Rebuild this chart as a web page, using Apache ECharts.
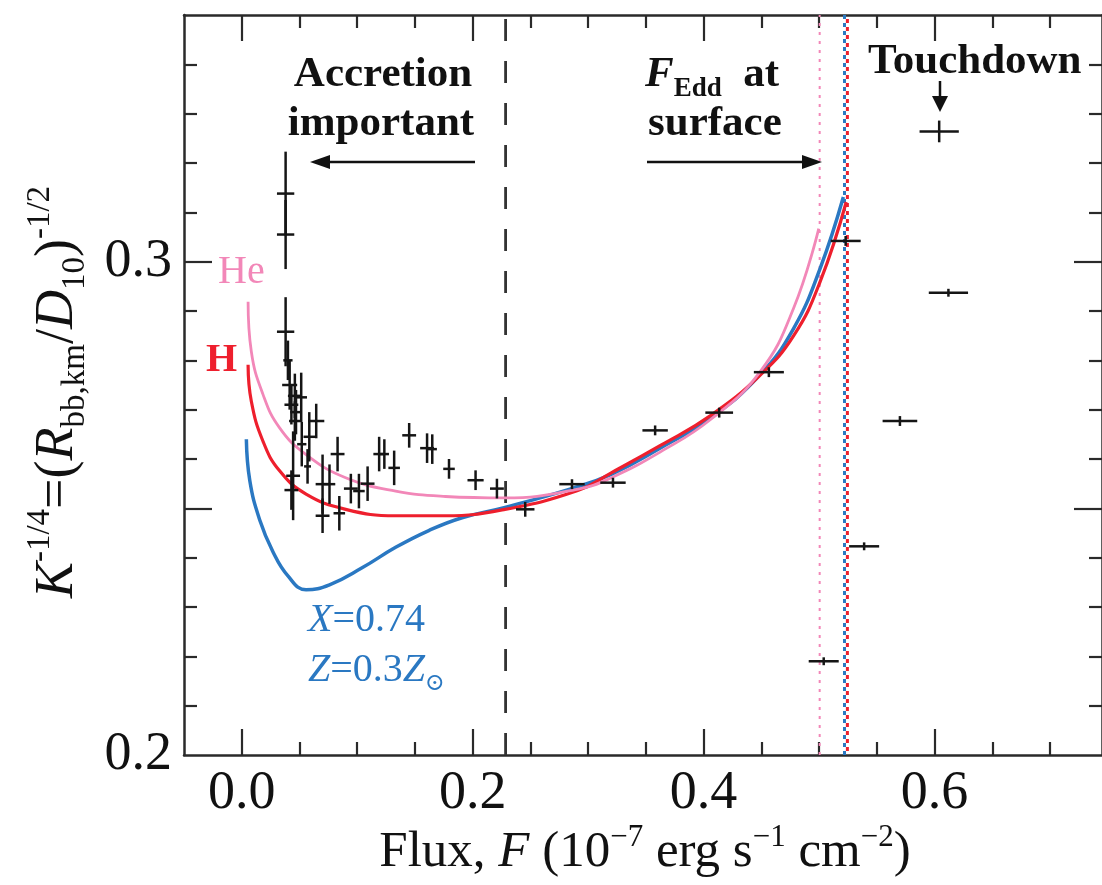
<!DOCTYPE html>
<html><head><meta charset="utf-8">
<script src="https://cdn.jsdelivr.net/npm/echarts@6/dist/echarts.min.js"></script>
<style>html,body{margin:0;padding:0;background:#fff}#c{width:1102px;height:885px}</style>
</head><body><div id="c"></div>
<script>
// ---- model curves ----
const blueX = [0.004, 0.007, 0.0155, 0.027, 0.040, 0.0557, 0.076, 0.1046, 0.1333, 0.162, 0.1908, 0.228, 0.2856, 0.32, 0.363, 0.406, 0.449, 0.478, 0.501, 0.521];
const blueY = [0.2640, 0.2556, 0.2477, 0.2412, 0.2363, 0.2335, 0.2345, 0.2380, 0.2421, 0.2455, 0.2481, 0.2502, 0.2540, 0.2569, 0.2623, 0.2683, 0.2771, 0.2865, 0.2987, 0.3131];
const redX = [0.0055, 0.0083, 0.0184, 0.0328, 0.0557, 0.09, 0.1333, 0.1765, 0.228, 0.291, 0.32, 0.363, 0.406, 0.449, 0.478, 0.501, 0.5235];
const redY = [0.2791, 0.2717, 0.2636, 0.2576, 0.2529, 0.2498, 0.2485, 0.2485, 0.2498, 0.2536, 0.2572, 0.2628, 0.2688, 0.2770, 0.2850, 0.2960, 0.3121];
const pinkX = [0.0055, 0.0083, 0.0184, 0.0328, 0.0557, 0.09, 0.1333, 0.1765, 0.228, 0.2914, 0.32, 0.363, 0.406, 0.449, 0.478, 0.4997];
const pinkY = [0.2919, 0.2818, 0.2731, 0.2663, 0.2609, 0.2562, 0.2535, 0.2524, 0.2521, 0.2539, 0.2562, 0.2615, 0.2680, 0.2777, 0.2906, 0.3067];

// ---- observed points with error bars ----
const ptX =    [0.038, 0.038, 0.038, 0.040, 0.0415, 0.046, 0.0515, 0.043, 0.047, 0.046, 0.0645, 0.0585, 0.052, 0.0445, 0.043, 0.057, 0.070, 0.070, 0.083, 0.076, 0.0845, 0.0945, 0.1015, 0.109, 0.119, 0.1235, 0.132, 0.145, 0.1605, 0.165, 0.1795, 0.2025, 0.221, 0.2455, 0.286, 0.3215, 0.358, 0.4135, 0.4565, 0.523, 0.504, 0.539, 0.570, 0.612, 0.604];
const ptY =    [0.3138, 0.3055, 0.2858, 0.2800, 0.2750, 0.2728, 0.2725, 0.2710, 0.2695, 0.2677, 0.2677, 0.2645, 0.2630, 0.2566, 0.2537, 0.2585, 0.2549, 0.2485, 0.2610, 0.2549, 0.2490, 0.2540, 0.2535, 0.2550, 0.2610, 0.2610, 0.2582, 0.2648, 0.2622, 0.2620, 0.2580, 0.2557, 0.2540, 0.2498, 0.2549, 0.2552, 0.2658, 0.2694, 0.2776, 0.3042, 0.2190, 0.2423, 0.2677, 0.2937, 0.3264];
const ptXErr = [0.0075, 0.0075, 0.0075, 0.004, 0.0065, 0.006, 0.005, 0.006, 0.005, 0.005, 0.007, 0.005, 0.004, 0.006, 0.006, 0.003, 0.006, 0.006, 0.006, 0.005, 0.005, 0.006, 0.005, 0.006, 0.005, 0.004, 0.005, 0.006, 0.006, 0.004, 0.005, 0.007, 0.006, 0.008, 0.011, 0.011, 0.011, 0.012, 0.013, 0.013, 0.013, 0.013, 0.015, 0.017, 0.017];
const ptYErr = [0.0085, 0.0070, 0.0070, 0.0040, 0.0050, 0.0045, 0.0050, 0.0040, 0.0045, 0.0040, 0.0035, 0.0050, 0.0045, 0.0090, 0.0040, 0.0035, 0.0060, 0.0035, 0.0035, 0.0040, 0.0035, 0.0030, 0.0035, 0.0035, 0.0035, 0.0030, 0.0035, 0.0025, 0.0030, 0.0030, 0.0020, 0.0020, 0.0020, 0.0015, 0.0010, 0.0010, 0.0010, 0.0010, 0.0010, 0.0010, 0.0008, 0.0008, 0.0010, 0.0008, 0.0022];

// ---- vertical reference lines ----
const dashedX = 0.2285;
const pinkDotX = 0.5005;
const blueDotX = 0.5220;
const redDotX = 0.5245;

// ---- ticks ----
const xLabelTicks = [0, 0.2, 0.4, 0.6];
const xMajorTicks = [0, 0.2, 0.4, 0.6];
const xMinorTicks = [0.05, 0.1, 0.15, 0.25, 0.3, 0.35, 0.45, 0.5, 0.55, 0.65, 0.7];
const yLabelTicks = [0.2, 0.3];
const yMajorTicks = [0.25, 0.3];
const yMinorTicks = [0.21, 0.22, 0.23, 0.24, 0.26, 0.27, 0.28, 0.29, 0.31, 0.32, 0.33, 0.34];

const FONT = "'Liberation Serif', 'DejaVu Serif', serif";
const C_BLUE = '#2a78c2', C_RED = '#ee1f2d', C_PINK = '#f287b8', C_BLACK = '#151515';

const zip = (a, b) => a.map((v, i) => [v, b[i]]);
const errData = ptX.map((v, i) => [v, ptY[i], ptXErr[i], ptYErr[i]]);

function xAx(pos, ticks, len, showLine, labels) {
  return {
    type: 'value', position: pos, min: -0.05, max: 0.745, gridIndex: 0,
    axisLine: { show: showLine, onZero: false, lineStyle: { color: '#2a2a2a', width: 2.5 } },
    axisTick: { show: true, inside: true, length: len, customValues: ticks, lineStyle: { color: '#2a2a2a', width: 2.2 } },
    axisLabel: labels ? { show: true, customValues: xLabelTicks, formatter: v => v.toFixed(1), fontFamily: FONT, fontSize: 54, color: '#111', margin: 12 } : { show: false },
    splitLine: { show: false }
  };
}
function yAx(pos, ticks, len, showLine, labels) {
  return {
    type: 'value', position: pos, min: 0.2, max: 0.35, gridIndex: 0,
    axisLine: { show: showLine, onZero: false, lineStyle: { color: '#2a2a2a', width: 2.5 } },
    axisTick: { show: true, inside: true, length: len, customValues: ticks, lineStyle: { color: '#2a2a2a', width: 2.2 } },
    axisLabel: labels ? { show: true, customValues: yLabelTicks, formatter: v => v.toFixed(1), fontFamily: FONT, fontSize: 54, color: '#111', margin: 12 } : { show: false },
    splitLine: { show: false }
  };
}

function vline(x, color, width, type, offset, z) {
  return {
    type: 'line', xAxisIndex: 0, yAxisIndex: 0, data: [[x, 0.2], [x, 0.35]],
    showSymbol: false, silent: true, z: z,
    lineStyle: { color: color, width: width, type: type, dashOffset: offset || 0 }
  };
}
function curve(xs, ys, color, width) {
  return { type: 'line', data: zip(xs, ys), showSymbol: false, smooth: 0.45, lineStyle: { color: color, width: width }, z: 3 };
}

const chart = echarts.init(document.getElementById('c'), null, { renderer: 'canvas' });
const ARROW = '#111';
chart.setOption({
  animation: false,
  backgroundColor: '#fff',
  grid: { left: 184, top: 15, width: 922, height: 740 },
  xAxis: [
    xAx('bottom', xMinorTicks, 13, true, true),
    xAx('bottom', xMajorTicks, 26, false, false),
    xAx('top', xMinorTicks, 13, true, false),
    xAx('top', xMajorTicks, 26, false, false)
  ],
  yAxis: [
    yAx('left', yMinorTicks, 13, true, true),
    yAx('left', yMajorTicks, 28, false, false),
    yAx('right', yMinorTicks, 13, true, false),
    yAx('right', yMajorTicks, 28, false, false)
  ],
  series: [
    vline(dashedX, '#333', 2.8, [22, 20], 0, 2),
    vline(pinkDotX, C_PINK, 2, [3, 6], 0, 2),
    vline(blueDotX, C_BLUE, 3, [4, 4], 0, 2),
    vline(redDotX, C_RED, 3, [4, 4], 4, 2),
    curve(blueX, blueY, C_BLUE, 3.5),
    curve(redX, redY, C_RED, 3.2),
    curve(pinkX, pinkY, C_PINK, 2.8),
    {
      type: 'custom', xAxisIndex: 0, yAxisIndex: 0, data: errData, z: 5,
      encode: { x: 0, y: 1 },
      renderItem: function (params, api) {
        const x = api.value(0), y = api.value(1), dx = api.value(2), dy = api.value(3);
        const l = api.coord([x - dx, y]), r = api.coord([x + dx, y]);
        const t = api.coord([x, y + dy]), b = api.coord([x, y - dy]);
        const st = { stroke: C_BLACK, lineWidth: 2.5 };
        return { type: 'group', children: [
          { type: 'line', shape: { x1: l[0], y1: l[1], x2: r[0], y2: r[1] }, style: st },
          { type: 'line', shape: { x1: t[0], y1: t[1], x2: b[0], y2: b[1] }, style: st }
        ] };
      }
    }
  ],
  graphic: [
    // axis titles
    { type: 'text', x: 645, y: 853, style: {
        text: '{n|Flux, }{i|F}{n| (10}{s|−7}{n| erg s}{s|−1}{n| cm}{s|−2}{n|)}',
        align: 'center', verticalAlign: 'middle', fill: '#111',
        rich: { n: { fontFamily: FONT, fontSize: 51, lineHeight: 62, verticalAlign: 'middle', fill: '#111' },
                i: { fontFamily: FONT, fontSize: 51, fontStyle: 'italic', lineHeight: 62, verticalAlign: 'middle', fill: '#111' },
                s: { fontFamily: FONT, fontSize: 31, lineHeight: 32, verticalAlign: 'top', fill: '#111' } } } },
    { type: 'text', x: 58, y: 392, rotation: Math.PI / 2, style: {
        text: '{i|K}{s|-1/4}{n|=(}{i|R}{b|bb,km}{n|/}{i|D}{b|10}{n|)}{s|-1/2}',
        align: 'center', verticalAlign: 'middle', fill: '#111',
        rich: { n: { fontFamily: FONT, fontSize: 54, lineHeight: 68, verticalAlign: 'middle', fill: '#111' },
                i: { fontFamily: FONT, fontSize: 54, fontStyle: 'italic', lineHeight: 68, verticalAlign: 'middle', fill: '#111' },
                s: { fontFamily: FONT, fontSize: 33, lineHeight: 34, verticalAlign: 'top', fill: '#111' },
                b: { fontFamily: FONT, fontSize: 33, lineHeight: 30, verticalAlign: 'bottom', fill: '#111' } } } },
    // accretion annotation
    { type: 'text', x: 383, y: 75, style: { text: 'Accretion', font: 'bold 43px ' + FONT, fill: '#111', align: 'center', verticalAlign: 'middle' } },
    { type: 'text', x: 381, y: 124, style: { text: 'important', font: 'bold 43px ' + FONT, fill: '#111', align: 'center', verticalAlign: 'middle' } },
    { type: 'polyline', shape: { points: [[475, 162], [325, 162]] }, style: { stroke: ARROW, lineWidth: 2.5 } },
    { type: 'polygon', shape: { points: [[310, 162], [330, 155], [330, 169]] }, style: { fill: ARROW } },
    // F_Edd annotation
    { type: 'text', x: 645, y: 75, style: {
        text: '{i|F}{b|Edd}{n|  at}', align: 'left', verticalAlign: 'middle', fill: '#111',
        rich: { i: { fontFamily: FONT, fontSize: 43, fontWeight: 'bold', fontStyle: 'italic', lineHeight: 56, verticalAlign: 'middle', fill: '#111' },
                n: { fontFamily: FONT, fontSize: 43, fontWeight: 'bold', lineHeight: 56, verticalAlign: 'middle', fill: '#111' },
                b: { fontFamily: FONT, fontSize: 27, fontWeight: 'bold', lineHeight: 24, verticalAlign: 'bottom', fill: '#111' } } } },
    { type: 'text', x: 648, y: 124, style: { text: 'surface', font: 'bold 43px ' + FONT, fill: '#111', align: 'left', verticalAlign: 'middle' } },
    { type: 'polyline', shape: { points: [[647, 162], [805, 162]] }, style: { stroke: ARROW, lineWidth: 2.5 } },
    { type: 'polygon', shape: { points: [[822, 162], [802, 155], [802, 169]] }, style: { fill: ARROW } },
    // touchdown
    { type: 'text', x: 868, y: 62, style: { text: 'Touchdown', font: 'bold 43px ' + FONT, fill: '#111', align: 'left', verticalAlign: 'middle' } },
    { type: 'polyline', shape: { points: [[940, 81], [940, 97]] }, style: { stroke: ARROW, lineWidth: 2.5 } },
    { type: 'polygon', shape: { points: [[940, 112], [932, 96], [948, 96]] }, style: { fill: ARROW } },
    // curve labels
    { type: 'text', x: 218, y: 272, style: { text: 'He', font: '40px ' + FONT, fill: C_PINK, align: 'left', verticalAlign: 'middle' } },
    { type: 'text', x: 206, y: 361, style: { text: 'H', font: 'bold 40px ' + FONT, fill: C_RED, align: 'left', verticalAlign: 'middle' } },
    { type: 'text', x: 308, y: 620, style: {
        text: '{i|X}{n|=0.74}', align: 'left', verticalAlign: 'middle',
        rich: { i: { fontFamily: FONT, fontSize: 40, fontStyle: 'italic', fill: C_BLUE },
                n: { fontFamily: FONT, fontSize: 40, fill: C_BLUE } } } },
    { type: 'text', x: 308, y: 670, style: {
        text: '{i|Z}{n|=0.3}{i|Z}{b|⊙}', align: 'left', verticalAlign: 'middle',
        rich: { i: { fontFamily: FONT, fontSize: 40, fontStyle: 'italic', lineHeight: 52, verticalAlign: 'middle', fill: C_BLUE },
                n: { fontFamily: FONT, fontSize: 40, lineHeight: 52, verticalAlign: 'middle', fill: C_BLUE },
                b: { fontFamily: FONT, fontSize: 24, lineHeight: 22, verticalAlign: 'bottom', fill: C_BLUE } } } }
  ]
});
</script>
</body></html>
